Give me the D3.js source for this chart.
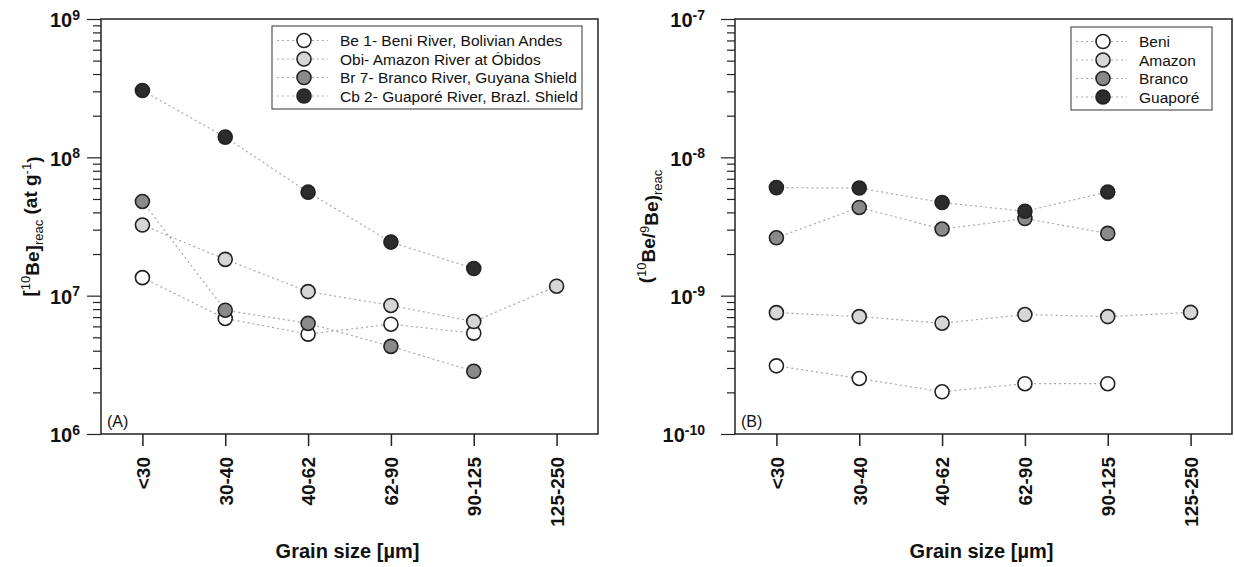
<!DOCTYPE html>
<html><head><meta charset="utf-8">
<script src="https://cdn.jsdelivr.net/npm/d3@7"></script>
<style>
body{margin:0;background:#fff;}
svg{display:block;font-family:"Liberation Sans",Arial,Helvetica,sans-serif;}
</style></head>
<body><svg id="chart" width="1234" height="567"></svg>
<script>
const categories = ["<30","30-40","40-62","62-90","90-125","125-250"];
const legendA = ["Be 1- Beni River, Bolivian Andes","Obi- Amazon River at Óbidos","Br 7- Branco River, Guyana Shield","Cb 2- Guaporé River, Brazl. Shield"];
const legendB = ["Beni","Amazon","Branco","Guaporé"];
const fills = ["#ffffff","#d6d6d6","#8a8a8a","#2c2c2c"];

// Panel A: [10Be]reac (at g-1)
const beniA    = [1.35e7, 6.84e6, 5.27e6, 6.22e6, 5.36e6, null];
const amazonA  = [3.24e7, 1.83e7, 1.07e7, 8.5e6, 6.5e6, 1.17e7];
const brancoA  = [4.8e7, 7.85e6, 6.3e6, 4.3e6, 2.84e6, null];
const guaporeA = [3.04e8, 1.40e8, 5.6e7, 2.44e7, 1.57e7, null];
const yDomainA = [1e6, 1e9];

// Panel B: (10Be/9Be)reac
const beniB    = [3.11e-10, 2.52e-10, 2.02e-10, 2.31e-10, 2.31e-10, null];
const amazonB  = [7.54e-10, 7.06e-10, 6.32e-10, 7.3e-10, 7.06e-10, 7.57e-10];
const brancoB  = [2.62e-9, 4.34e-9, 3.03e-9, 3.61e-9, 2.82e-9, null];
const guaporeB = [6.04e-9, 6.0e-9, 4.71e-9, 4.08e-9, 5.62e-9, null];
const yDomainB = [1e-10, 1e-7];

const svg = d3.select("#chart");
const plotTop = 19, plotBottom = 434, W = 497;

function drawPanel(cfg) {
  const x0 = cfg.x0;
  const g = svg.append("g");
  const x = d3.scaleLinear().domain([0.5, 6.5]).range([x0, x0 + W]);
  const y = d3.scaleLog().domain(cfg.yDomain).range([plotBottom, plotTop]);

  // lines
  const line = d3.line().x(d => x(d.i + 1)).y(d => y(d.v));
  cfg.series.forEach(s => {
    const pts = s.map((v, i) => ({v, i})).filter(d => d.v != null);
    g.append("path").attr("d", line(pts)).attr("fill", "none")
      .attr("stroke", "#a8a8a8").attr("stroke-width", 1.2).attr("stroke-dasharray", "2,3");
  });
  // points
  cfg.series.forEach((s, k) => {
    g.selectAll(null).data(s.map((v, i) => ({v, i})).filter(d => d.v != null)).enter()
      .append("circle").attr("cx", d => x(d.i + 1)).attr("cy", d => y(d.v)).attr("r", 7)
      .attr("fill", fills[k]).attr("stroke", "#222").attr("stroke-width", 1.6);
  });

  // frame
  g.append("rect").attr("x", x0).attr("y", plotTop).attr("width", W).attr("height", plotBottom - plotTop)
    .attr("fill", "none").attr("stroke", "#222").attr("stroke-width", 1.5);

  // x axis
  const xa = g.append("g").attr("transform", `translate(0,${plotBottom})`)
    .call(d3.axisBottom(x).tickValues([1,2,3,4,5,6]).tickFormat(d => categories[d - 1]).tickSize(12).tickSizeOuter(0));
  xa.select(".domain").remove();
  xa.selectAll(".tick line").attr("stroke", "#222").attr("stroke-width", 1.5);
  xa.selectAll(".tick text").attr("transform", "rotate(-90)").attr("x", -23).attr("y", 0)
    .attr("dy", "0.36em").style("text-anchor", "end").style("font-size", "19px")
    .style("font-weight", "bold").attr("fill", "#111").style("font-family", "Liberation Sans, Arial, sans-serif");

  // y axis
  const tv = y.ticks();
  const ya = g.append("g").attr("transform", `translate(${x0},0)`)
    .call(d3.axisLeft(y).tickValues(tv).tickFormat("").tickSizeOuter(0));
  ya.select(".domain").remove();
  ya.selectAll(".tick line").attr("stroke", "#222").attr("stroke-width", 1.2)
    .attr("x2", d => {
      const m = Math.round(d / Math.pow(10, Math.floor(Math.log10(d) + 1e-9)));
      return m === 1 ? -14 : -8;
    });
  const majors = tv.filter(d => Math.abs(Math.log10(d) - Math.round(Math.log10(d))) < 1e-6);
  majors.forEach(d => {
    const e = Math.round(Math.log10(d));
    const t = g.append("text").attr("x", x0 - cfg.labelGap).attr("y", y(d)).attr("dy", "0.42em")
      .attr("text-anchor", "end").style("font-weight", "bold").style("font-size", "20px").attr("fill", "#111");
    t.append("tspan").text("10");
    t.append("tspan").attr("dy", "-0.55em").style("font-size", "14px").text(String(e));
  });

  // y title
  const yt = g.append("text").attr("transform", `translate(${cfg.titleX},${(plotTop + plotBottom) / 2}) rotate(-90)`)
    .attr("text-anchor", "middle").style("font-weight", "bold").style("font-size", "19px").attr("fill", "#111");
  cfg.yTitle(yt);

  // x title
  g.append("text").attr("x", x0 + W / 2 - 2).attr("y", 558).attr("text-anchor", "middle")
    .style("font-weight", "bold").style("font-size", "20px").attr("fill", "#111").text("Grain size [µm]");

  // panel letter
  g.append("text").attr("x", x0 + 6).attr("y", 427).style("font-size", "16px").attr("fill", "#111").text(cfg.letter);

  // legend
  const L = cfg.legend;
  const lg = g.append("g");
  lg.append("rect").attr("x", L.x).attr("y", L.y).attr("width", L.w).attr("height", L.h)
    .attr("fill", "#fff").attr("stroke", "#555").attr("stroke-width", 1.2);
  cfg.names.forEach((n, k) => {
    const ry = L.y + 14.5 + k * 18.5;
    lg.append("line").attr("x1", L.x + 5).attr("x2", L.x + 56).attr("y1", ry).attr("y2", ry)
      .attr("stroke", "#a8a8a8").attr("stroke-width", 1.2).attr("stroke-dasharray", "2,3");
    lg.append("circle").attr("cx", L.x + 32).attr("cy", ry).attr("r", 7)
      .attr("fill", fills[k]).attr("stroke", "#222").attr("stroke-width", 1.6);
    lg.append("text").attr("x", L.x + 68).attr("y", ry).attr("dy", "0.36em")
      .style("font-size", "15.5px").attr("fill", "#111").text(n);
  });
}

drawPanel({
  x0: 101, yDomain: yDomainA, series: [beniA, amazonA, brancoA, guaporeA],
  labelGap: 21, titleX: 36, letter: "(A)", names: legendA,
  legend: {x: 272, y: 26, w: 310, h: 83},
  yTitle: t => {
    t.append("tspan").text("[");
    t.append("tspan").attr("dy", "-0.5em").style("font-size", "13px").style("font-weight", "normal").text("10");
    t.append("tspan").attr("dy", "0.5em").text("Be]");
    t.append("tspan").attr("dy", "0.3em").style("font-size", "13px").style("font-weight", "normal").text("reac");
    t.append("tspan").attr("dy", "-0.3em").text(" (at g");
    t.append("tspan").attr("dy", "-0.5em").style("font-size", "13px").style("font-weight", "normal").text("-1");
    t.append("tspan").attr("dy", "0.5em").text(")");
  }
});

drawPanel({
  x0: 735, yDomain: yDomainB, series: [beniB, amazonB, brancoB, guaporeB],
  labelGap: 30, titleX: 652, letter: "(B)", names: legendB,
  legend: {x: 1071, y: 27, w: 141, h: 83},
  yTitle: t => {
    t.append("tspan").text("(");
    t.append("tspan").attr("dy", "-0.5em").style("font-size", "13px").style("font-weight", "normal").text("10");
    t.append("tspan").attr("dy", "0.5em").text("Be/");
    t.append("tspan").attr("dy", "-0.5em").style("font-size", "13px").style("font-weight", "normal").text("9");
    t.append("tspan").attr("dy", "0.5em").text("Be)");
    t.append("tspan").attr("dy", "0.3em").style("font-size", "13px").style("font-weight", "normal").text("reac");
  }
});
</script></body></html>
